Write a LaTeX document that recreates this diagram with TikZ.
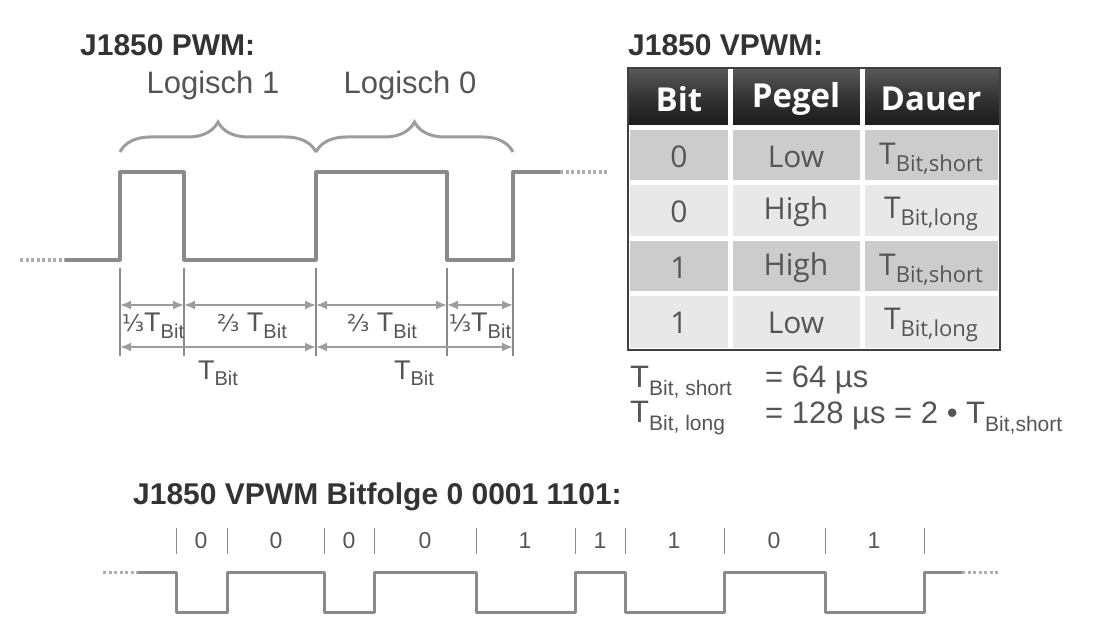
\documentclass[tikz,border=0pt]{standalone}
\usepackage{fontspec}
\setmainfont{Liberation Sans}
\newfontfamily\tabfont{Open Sans}
\newfontfamily\symfont{DejaVu Sans}
\usetikzlibrary{arrows.meta,decorations.pathreplacing}
\newcommand\lo[2]{\raisebox{-0.45ex}{\fontsize{#1}{#1}\selectfont #2}}
\newcommand\third[1]{{\symfont\fontsize{23}{23}\selectfont #1}}
\definecolor{wave}{HTML}{8A8A8A}
\definecolor{txt}{HTML}{555555}
\definecolor{ttl}{HTML}{333333}
\begin{document}
\begin{tikzpicture}[x=1pt,y=-1pt,
  wv/.style={line width=3.2pt,wave,line join=round},
  dots/.style={line width=3.2pt,wave!70,dash pattern=on 3pt off 2.5pt},
  dim/.style={line width=1.8pt,wave!85,{Latex[length=11pt,width=9pt]}-{Latex[length=11pt,width=9pt]}},
  ext/.style={line width=1.2pt,wave},
  lbl/.style={text=txt,font=\fontsize{27}{27}\selectfont,inner sep=0pt},
  big/.style={text=txt,font=\fontsize{31}{31}\selectfont,inner sep=0pt},
  title/.style={text=ttl,font=\bfseries\fontsize{30}{30}\selectfont,inner sep=0pt,anchor=west},
  cell/.style={text=txt,font=\tabfont\fontsize{30}{30}\selectfont,inner sep=0pt},
  head/.style={text=white,font=\tabfont\bfseries\fontsize{33}{33}\selectfont,inner sep=0pt},
  br/.style={line width=3pt,wave!85,decorate,decoration={brace,amplitude=30pt,raise=0pt}},
  bt/.style={text=txt,font=\fontsize{23}{23}\selectfont,inner sep=0pt}]
\useasboundingbox (0,0) rectangle (1106,644);
% ---------- PWM ----------
\node[title] (t1) at (80,45) {J1850 PWM:};
\node[big] (l1) at (213,85) {Logisch 1};
\node[big] (l0) at (410,85) {Logisch 0};
\draw[br] (120,152) -- (316,152);
\draw[br] (316,152) -- (513,152);
\draw[dots] (20,260) -- (65,260);
\draw[wv] (65,260) -- (120,260) -- (120,172) -- (184,172) -- (184,260) -- (316,260) -- (316,172) -- (447,172) -- (447,260) -- (513,260) -- (513,172) -- (560,172);
\draw[dots] (560,172) -- (608,172);
\foreach \x in {120,184,316,447,513} \draw[ext] (\x,268) -- (\x,356);
\coordinate (a0) at (120,305); \coordinate (a1) at (184,305); \coordinate (a2) at (316,305);
\coordinate (a3) at (447,305); \coordinate (a4) at (513,305);
\coordinate (b0) at (120,347); \coordinate (b2) at (316,347); \coordinate (b4) at (513,347);
\draw[dim] (a0) -- (a1); \draw[dim] (a1) -- (a2); \draw[dim] (a2) -- (a3); \draw[dim] (a3) -- (a4);
\draw[dim] (b0) -- (b2); \draw[dim] (b2) -- (b4);
\node[lbl] (d1) at (153,326) {\third{⅓}T\lo{20}{Bit}};
\node[lbl] (d2) at (252,326) {\third{⅔} T\lo{20}{Bit}};
\node[lbl] (d3) at (382,326) {\third{⅔} T\lo{20}{Bit}};
\node[lbl] (d4) at (480,326) {\third{⅓}T\lo{20}{Bit}};
\node[lbl] (d5) at (218,373) {T\lo{20}{Bit}};
\node[lbl] (d6) at (414,373) {T\lo{20}{Bit}};
% ---------- VPWM table ----------
\node[title] (t2) at (628,45) {J1850 VPWM:};
\fill[white] (628,68) rectangle (1000,350);
\shade[top color=black!65,bottom color=black!90,middle color=black!80] (628,68) rectangle (1000,127);
\foreach \y/\c in {127/black!20,182/black!9,238/black!20,293/black!9}
  \fill[\c] (630,\y+3) rectangle (998,\y+55);
\foreach \x in {730,862} \draw[white,line width=5pt] (\x,68) -- (\x,350);
\foreach \y in {127,182,238,293} \draw[white,line width=5pt] (628,\y+1) -- (1000,\y+1);
\draw[black!75,line width=2.5pt] (628,68) rectangle (1000,350);
\node[head] (h1) at (679,99) {Bit};
\node[head] (h2) at (796,99) {Pegel};
\node[head] (h3) at (931,99) {Dauer};
\node[cell] (c11) at (679,157) {0}; \node[cell] (c12) at (796,157) {Low}; \node[cell] (c13) at (931,159) {T\lo{22}{Bit,short}};
\node[cell] (c21) at (679,212) {0}; \node[cell] (c22) at (796,212) {High}; \node[cell] (c23) at (931,214) {T\lo{22}{Bit,long}};
\node[cell] (c31) at (679,268) {1}; \node[cell] (c32) at (796,268) {High}; \node[cell] (c33) at (931,270) {T\lo{22}{Bit,short}};
\node[cell] (c41) at (679,323) {1}; \node[cell] (c42) at (796,323) {Low}; \node[cell] (c43) at (931,325) {T\lo{22}{Bit,long}};
\node[big,anchor=west] (f1) at (630,382) {T\lo{21}{Bit, short}};
\node[big,anchor=west] (f2) at (765,380) {= 64 µs};
\node[big,anchor=west] (f3) at (630,418) {T\lo{21}{Bit, long}};
\node[big,anchor=west] (f4) at (765,418) {= 128 µs = 2 • T\lo{21}{Bit,short}};
% ---------- Bitfolge ----------
\node[title] (t3) at (133,497) {J1850 VPWM Bitfolge 0 0001 1101:};
\foreach \x in {176,227,324,374,476,575,625,724,825,924} \draw[ext,line width=0.8pt] (\x,528) -- (\x,554);
\foreach \x/\b in {201/0,276/0,349/0,425/0,525/1,600/1,674/1,774/0,874/1} \node[bt] at (\x,541) {\b};
\draw[dots,line width=3pt] (103,572) -- (138,572);
\draw[wv,line width=3pt] (138,572) -- (176,572) -- (176,612) -- (227,612) -- (227,572) -- (324,572) -- (324,612) -- (374,612) -- (374,572) -- (476,572) -- (476,612) -- (575,612) -- (575,572) -- (625,572) -- (625,612) -- (724,612) -- (724,572) -- (825,572) -- (825,612) -- (924,612) -- (924,572) -- (962,572);
\draw[dots,line width=3pt] (962,572) -- (998,572);
\end{tikzpicture}
\end{document}
